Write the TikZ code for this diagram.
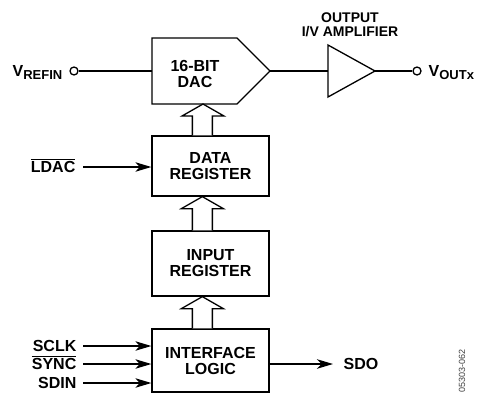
\documentclass[tikz,border=0pt]{standalone}
\usepackage{fontspec}
\setmainfont{Liberation Sans}
\usetikzlibrary{arrows.meta,calc}

\newcommand{\lowtxt}[1]{\raisebox{-3pt}{\fontsize{13pt}{13pt}\selectfont #1}}
\newcommand{\ovl}[1]{\setbox0\hbox{#1}\rlap{\rule[13pt]{\wd0}{1.1pt}}\box0}
% hollow bus arrow from box #1 (below) up to box #2
\newcommand{\busup}[2]{%
	\draw[fill=white] ($(#1)+(41,0)$) |- ($(#2)+(30,12)$) -- ($(#2)+(51,0)$)
	-- ($(#2)+(72,12)$) -| ($(#1)+(61,0)$);
}

\tikzset{
	bold/.style={font=\fontsize{16pt}{16pt}\selectfont\bfseries},
	blok/.style={bold, draw, minimum width=117pt, align=center, inner sep=0pt},
	lbl/.style={bold, inner sep=0pt, text height=11.5pt, text depth=0pt},
	sig/.style={-{Stealth[length=16pt,width=9.5pt,inset=4.5pt]}},
	pinhole/.style={draw, circle, fill=white, minimum size=8pt, inner sep=0pt}
}

\begin{document}
\begin{tikzpicture}[x=1pt, y=-1pt, line width=1.3pt]
	%\draw[dotted] (0,0) grid[step=20] (479,394);
	\useasboundingbox (0,0) rectangle (479,394);
	
	% dac
	\draw (152,38) -- (237,38) -- (270,71) -- (237,104) -- (152,104) -- cycle;
	\coordinate (dacin) at (152,71);
	\coordinate (dacout) at (270,71);
	\coordinate (dacsw) at (152,104);
	\node [bold, align=center] (dac) at (195,74) {16-BIT\\DAC};
	
	% amplifier
	\draw (328,45) -- (375,71) -- (328,97) -- cycle;
	\coordinate (ampin) at (328,71);
	\coordinate (ampout) at (375,71);
	\node [align=center, font=\fontsize{14pt}{14pt}\selectfont\bfseries] (amp) at (350,25) {OUTPUT\\I/V AMPLIFIER};
	
	\node [pinhole] (vref) at (74,71) {};
	\node [lbl, anchor=east] (vreftxt) at (63,71) {V\lowtxt{REFIN}};
	\node [pinhole] (vout) at (417,71) {};
	\node [lbl, anchor=west] (vouttxt) at (428,71) {V\lowtxt{OUTx}};
	\draw (vref) -- (dacin);
	\draw (dacout) -- (ampin);
	\draw (ampout) -- (vout);
	
	% registers
	\node [blok, minimum height=60pt] (data) at (210.5,166) {DATA\\REGISTER};
	\node [blok, minimum height=65pt] (input) at (210.5,263.5) {INPUT\\REGISTER};
	\node [blok, minimum height=63pt] (iface) at (210.5,360.5) {INTERFACE\\LOGIC};
	
	\busup{data.north west}{dacsw}
	\busup{input.north west}{data.south west}
	\busup{iface.north west}{input.south west}
	
	\node [lbl, anchor=east] (ldac) at (76,167) {\ovl{LDAC}};
	\draw [sig] ([xshift=7pt]ldac.east) -- (ldac.east -| data.west);
	
	\foreach \nm/\txt/\yy in {sclk/SCLK/346, sync/\ovl{SYNC}/364, sdin/SDIN/383}{
		\node [lbl, anchor=east] (\nm) at (77,\yy) {\txt};
		\draw [sig] ([xshift=6pt]\nm.east) -- (\nm.east -| iface.west);
	}
	
	\node [lbl, anchor=west] (sdo) at (343,364) {SDO};
	\draw [sig] (iface.east |- sdo.west) -- ([xshift=-10pt]sdo.west);
	
	\node [rotate=90, text=black!75, font=\fontsize{9pt}{9pt}\selectfont] (figno) at (462,371) {05303-062};
\end{tikzpicture}
\end{document}
